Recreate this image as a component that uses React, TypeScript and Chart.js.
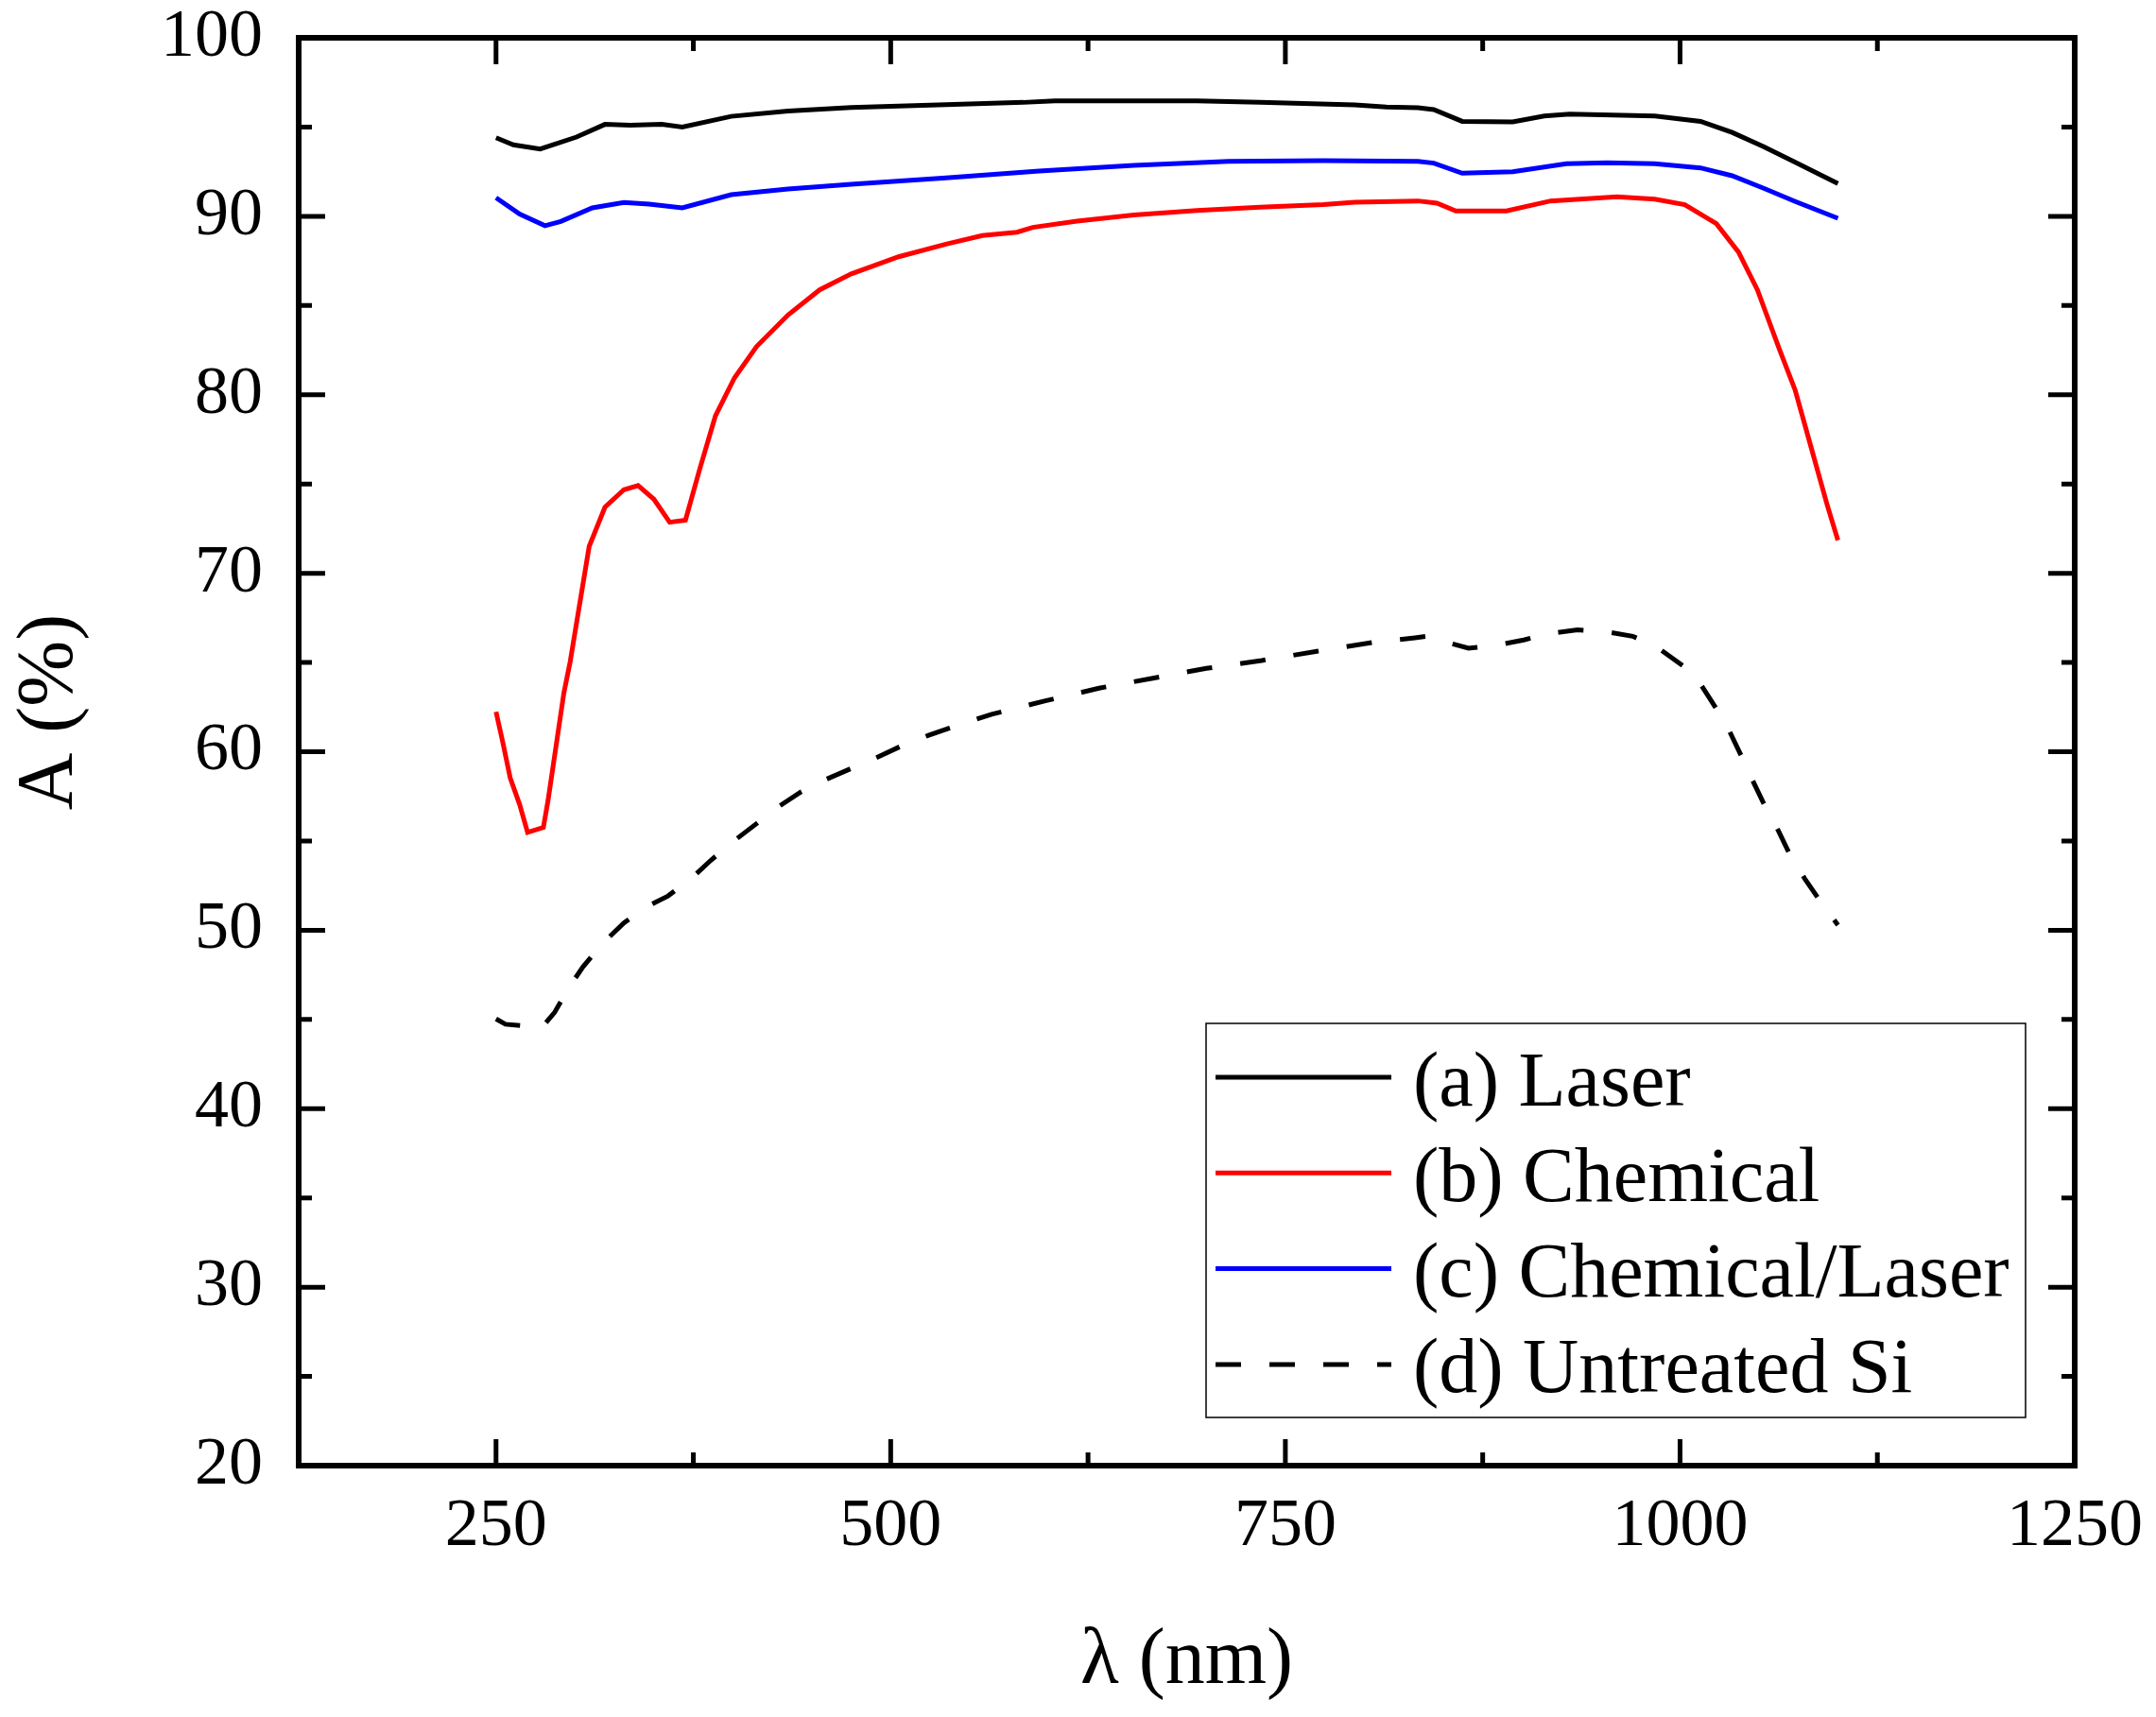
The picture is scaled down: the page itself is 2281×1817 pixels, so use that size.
import { useEffect, useRef } from "react";
import { Chart, registerables, type Plugin } from "chart.js";

Chart.register(...registerables);

// (a) Laser
const laserWavelength = [
  250, 261, 278, 301, 319, 335, 355, 368, 399, 435, 475, 535, 584, 604, 694,
  734, 794, 814, 834, 844, 862, 894, 914, 930, 984, 1013, 1033, 1053, 1073, 1100,
];
const laserAbsorption = [
  94.4, 94.0, 93.77, 94.44, 95.15, 95.1, 95.15, 95.0, 95.6, 95.9, 96.1, 96.26,
  96.38, 96.47, 96.47, 96.38, 96.24, 96.12, 96.08, 95.98, 95.32, 95.29, 95.62,
  95.73, 95.62, 95.32, 94.7, 93.9, 93.03, 91.83,
];

// (b) Chemical
const chemicalWavelength = [
  250, 254, 259, 265, 270, 280, 283, 288, 293, 297, 309, 319, 331, 340, 350,
  360, 370, 379, 389, 401, 415, 435, 455, 475, 505, 535, 558, 580, 590, 618,
  654, 694, 734, 774, 794, 834, 846, 858, 890, 918, 960, 984, 1003, 1023, 1037,
  1049, 1063, 1073, 1083, 1093, 1100,
];
const chemicalAbsorption = [
  62.24, 60.65, 58.53, 57.03, 55.48, 55.76, 57.3, 60.3, 63.3, 65.06, 71.5, 73.7,
  74.68, 74.91, 74.15, 72.86, 72.97, 75.82, 78.82, 80.94, 82.7, 84.47, 85.88,
  86.77, 87.73, 88.44, 88.92, 89.11, 89.38, 89.73, 90.07, 90.33, 90.51, 90.65,
  90.79, 90.86, 90.74, 90.3, 90.3, 90.86, 91.09, 90.96, 90.65, 89.59, 88.0,
  85.88, 82.53, 80.24, 77.06, 73.89, 71.85,
];

// (c) Chemical/Laser
const comboWavelength = [
  250, 265, 281, 291, 311, 331, 347, 368, 399, 435, 475, 535, 594, 654, 714,
  774, 834, 844, 862, 894, 928, 954, 984, 1013, 1033, 1053, 1073, 1100,
];
const comboAbsorption = [
  91.04, 90.12, 89.47, 89.71, 90.47, 90.77, 90.68, 90.47, 91.21, 91.53, 91.79,
  92.15, 92.54, 92.85, 93.08, 93.12, 93.08, 92.98, 92.41, 92.5, 92.94, 93.0,
  92.94, 92.71, 92.27, 91.57, 90.83, 89.89,
];

// (d) Untreated Si
const untreatedWavelength = [
  250, 256, 273, 279, 287, 296, 305, 318, 331, 345, 359, 375, 386, 402, 415,
  430, 443, 459, 475, 492, 507, 524, 537, 564, 598, 632, 666, 700, 735, 770,
  805, 832, 840, 847, 866, 882, 901, 916, 935, 952, 970, 985, 1002, 1013, 1023,
  1031, 1039, 1046, 1054, 1062, 1070, 1079, 1090, 1100,
];
const untreatedAbsorption = [
  45.03, 44.73, 44.59, 44.54, 45.38, 46.76, 47.94, 49.3, 50.41, 51.3, 51.92,
  53.0, 53.91, 55.09, 55.97, 56.98, 57.74, 58.45, 59.06, 59.71, 60.33, 60.92,
  61.32, 62.1, 62.85, 63.56, 64.12, 64.67, 65.11, 65.63, 66.12, 66.38, 66.47,
  66.26, 65.8, 65.94, 66.26, 66.61, 66.83, 66.74, 66.47, 65.89, 64.8, 63.79,
  62.41, 61.21, 59.73, 58.39, 56.91, 55.62, 54.16, 52.89, 51.47, 50.29,
];

const xMajorTicks = [250, 500, 750, 1000, 1250];
const xMinorTicks = [375, 625, 875, 1125];
const yMajorTicks = [20, 30, 40, 50, 60, 70, 80, 90, 100];
const yMinorTicks = [25, 35, 45, 55, 65, 75, 85, 95];

const FONT = '"Liberation Serif", "Times New Roman", serif';

const toPoints = (xs: number[], ys: number[]) =>
  xs.map((x, i) => ({ x, y: ys[i] }));

// keep tick-label overflow from pushing the plot area around
const clearScalePadding = (scale: any) => {
  scale.paddingTop = 0;
  scale.paddingBottom = 0;
  scale.paddingLeft = 0;
  scale.paddingRight = 0;
};

// inward ticks on all four sides plus the closed frame
const framePlugin: Plugin<"line"> = {
  id: "frame",
  afterDatasetsDraw(chart) {
    const { ctx, chartArea, scales } = chart;
    const { left, right, top, bottom } = chartArea;
    const x = scales.x;
    const y = scales.y;
    ctx.save();
    ctx.strokeStyle = "#000";
    ctx.lineWidth = 5;
    ctx.beginPath();
    const xTick = (v: number, len: number) => {
      const px = x.getPixelForValue(v);
      ctx.moveTo(px, bottom);
      ctx.lineTo(px, bottom - len);
      ctx.moveTo(px, top);
      ctx.lineTo(px, top + len);
    };
    const yTick = (v: number, len: number) => {
      const py = y.getPixelForValue(v);
      ctx.moveTo(left, py);
      ctx.lineTo(left + len, py);
      ctx.moveTo(right, py);
      ctx.lineTo(right - len, py);
    };
    xMajorTicks.forEach((v) => xTick(v, 28));
    xMinorTicks.forEach((v) => xTick(v, 14));
    yMajorTicks.forEach((v) => yTick(v, 28));
    yMinorTicks.forEach((v) => yTick(v, 14));
    ctx.stroke();
    ctx.lineWidth = 6;
    ctx.strokeRect(left, top, right - left, bottom - top);
    ctx.restore();
  },
};

// boxed legend in the lower right of the plot
const insetLegendPlugin: Plugin<"line"> = {
  id: "insetLegend",
  afterDraw(chart) {
    const { ctx, chartArea } = chart;
    const boxRight = chartArea.right - 52;
    const boxBottom = chartArea.bottom - 51;
    const boxWidth = 867;
    const boxHeight = 417;
    const boxLeft = boxRight - boxWidth;
    const boxTop = boxBottom - boxHeight;

    ctx.save();
    ctx.fillStyle = "#fff";
    ctx.fillRect(boxLeft, boxTop, boxWidth, boxHeight);
    ctx.strokeStyle = "#000";
    ctx.lineWidth = 1.5;
    ctx.strokeRect(boxLeft, boxTop, boxWidth, boxHeight);

    chart.data.datasets.forEach((ds: any, i) => {
      const rowY = boxTop + 57 + i * 101.3;
      ctx.strokeStyle = ds.borderColor;
      ctx.lineWidth = ds.borderWidth;
      ctx.setLineDash(ds.borderDash ?? []);
      ctx.beginPath();
      ctx.moveTo(boxLeft + 10, rowY);
      ctx.lineTo(boxLeft + 196, rowY);
      ctx.stroke();
      ctx.setLineDash([]);

      ctx.fillStyle = "#000";
      ctx.font = `82px ${FONT}`;
      ctx.textAlign = "left";
      ctx.textBaseline = "middle";
      ctx.fillText(ds.label, boxLeft + 219, rowY + 8);
    });
    ctx.restore();
  },
};

export default function App() {
  const canvasRef = useRef<HTMLCanvasElement>(null);

  useEffect(() => {
    if (!canvasRef.current) return;

    const chart = new Chart(canvasRef.current, {
      type: "line",
      data: {
        datasets: [
          {
            label: "(a) Laser",
            data: toPoints(laserWavelength, laserAbsorption),
            borderColor: "#000000",
            borderWidth: 5,
          },
          {
            label: "(b) Chemical",
            data: toPoints(chemicalWavelength, chemicalAbsorption),
            borderColor: "#ff0000",
            borderWidth: 5,
          },
          {
            label: "(c) Chemical/Laser",
            data: toPoints(comboWavelength, comboAbsorption),
            borderColor: "#0000ff",
            borderWidth: 5,
          },
          {
            label: "(d) Untreated Si",
            data: toPoints(untreatedWavelength, untreatedAbsorption),
            borderColor: "#000000",
            borderWidth: 5,
            borderDash: [27, 30],
          },
        ],
      },
      options: {
        animation: false,
        responsive: false,
        devicePixelRatio: 1,
        events: [],
        layout: { padding: { top: 40, right: 86, bottom: 0, left: 0 } },
        elements: {
          point: { radius: 0 },
          line: { tension: 0, fill: false },
        },
        plugins: {
          legend: { display: false },
          tooltip: { enabled: false },
        },
        scales: {
          x: {
            type: "linear",
            min: 125,
            max: 1250,
            afterBuildTicks: (scale) => {
              scale.ticks = xMajorTicks.map((value) => ({ value }));
            },
            afterFit: (scale) => {
              scale.height = 266;
              clearScalePadding(scale);
            },
            grid: { display: false, drawTicks: false, tickLength: 0 },
            border: { display: false },
            ticks: {
              color: "#000",
              padding: 29,
              maxRotation: 0,
              autoSkip: false,
              callback: (value) => String(value),
              font: { family: FONT, size: 72, lineHeight: 1 },
            },
            title: {
              display: true,
              text: "λ (nm)",
              color: "#000",
              font: { family: FONT, size: 84 },
              padding: { top: 0, bottom: 8 },
            },
          },
          y: {
            type: "linear",
            min: 20,
            max: 100,
            afterBuildTicks: (scale) => {
              scale.ticks = yMajorTicks.map((value) => ({ value }));
            },
            afterFit: (scale) => {
              scale.width = 316;
              clearScalePadding(scale);
            },
            grid: { display: false, drawTicks: false, tickLength: 0 },
            border: { display: false },
            ticks: {
              color: "#000",
              padding: 38,
              autoSkip: false,
              callback: (value) => String(value),
              font: { family: FONT, size: 72, lineHeight: 1 },
            },
            title: {
              display: true,
              text: "\u00a0\u00a0\u00a0\u00a0A (%)",
              color: "#000",
              font: { family: FONT, size: 84 },
              padding: { top: 4, bottom: 0 },
            },
          },
        },
      },
      plugins: [framePlugin, insetLegendPlugin],
    });

    return () => chart.destroy();
  }, []);

  return (
    <div
      style={{
        position: "absolute",
        left: 0,
        top: 0,
        width: 2281,
        height: 1817,
        background: "#fff",
      }}
    >
      <canvas
        ref={canvasRef}
        width={2281}
        height={1817}
        style={{ display: "block" }}
      />
    </div>
  );
}
